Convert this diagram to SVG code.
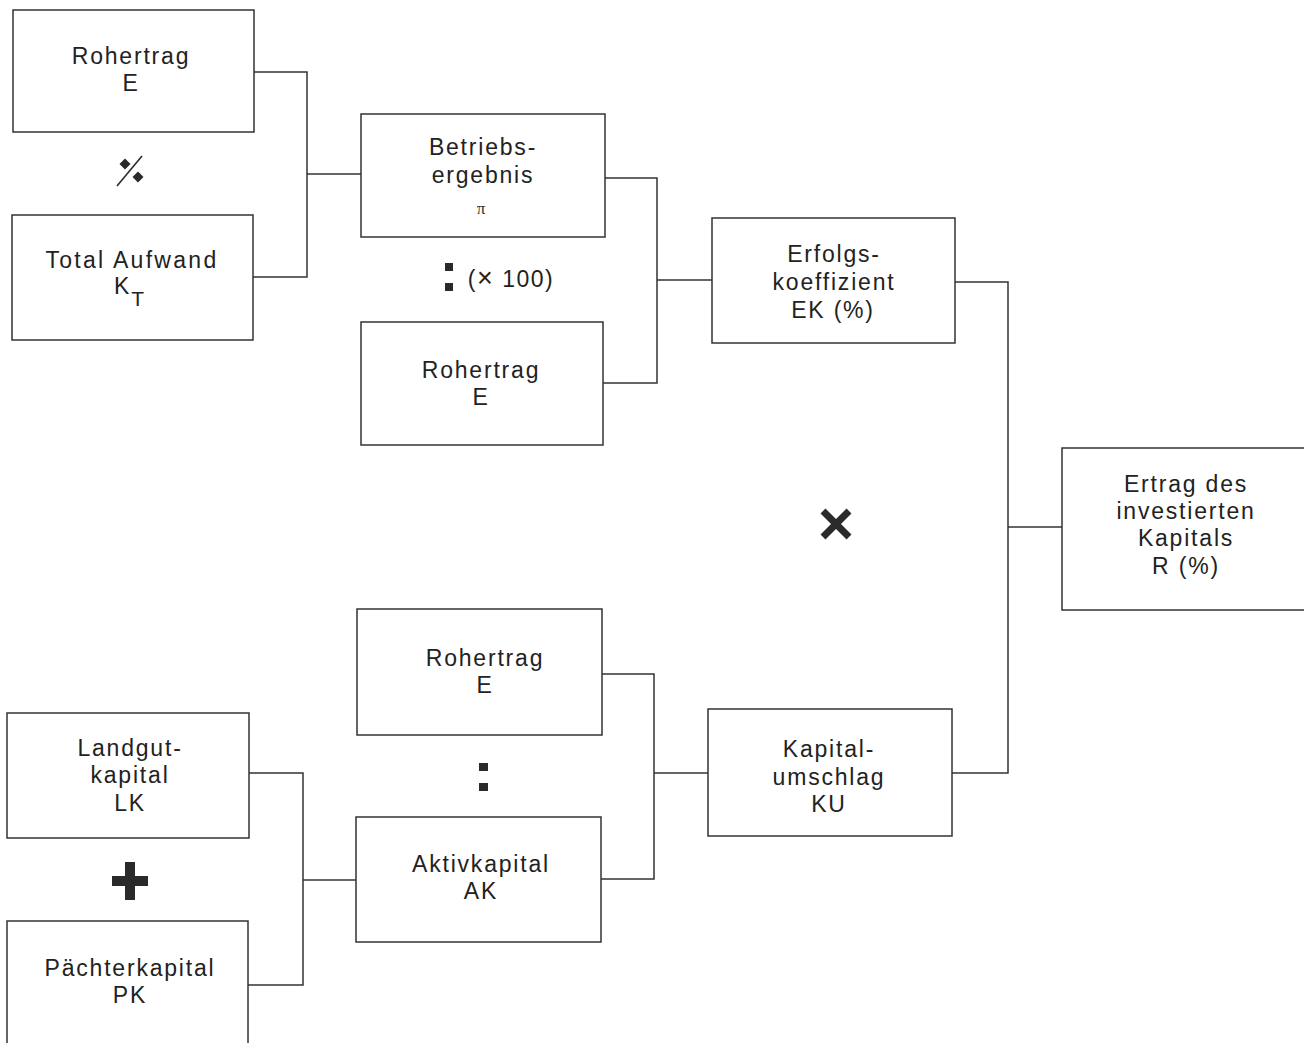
<svg xmlns="http://www.w3.org/2000/svg" width="1304" height="1043" viewBox="0 0 1304 1043">
<style>
.box{fill:#fff;stroke:#333;stroke-width:1.5}
.t{font-family:"Liberation Sans",Arial,sans-serif;font-size:23px;fill:#222;text-anchor:middle;letter-spacing:1.8px}
.c{fill:none;stroke:#333;stroke-width:1.5}
.op{fill:#2a2a2a}
</style>
<rect width="1304" height="1043" fill="#fff"/>
<g id="connectors">
<polyline class="c" points="254,72 307,72 307,277 253,277"/>
<line class="c" x1="307" y1="174" x2="361" y2="174"/>
<polyline class="c" points="605,178 657,178 657,383 603,383"/>
<line class="c" x1="657" y1="280" x2="712" y2="280"/>
<polyline class="c" points="955,282 1008,282 1008,773 952,773"/>
<line class="c" x1="1008" y1="527" x2="1062" y2="527"/>
<polyline class="c" points="602,674 654,674 654,879 601,879"/>
<line class="c" x1="654" y1="773" x2="708" y2="773"/>
<polyline class="c" points="249,773 303,773 303,985 248,985"/>
<line class="c" x1="303" y1="880" x2="356" y2="880"/>
</g>
<g id="n_rohertrag1">
<rect class="box" x="13" y="10" width="241" height="122"/>
<text class="t" x="131" y="64">Rohertrag</text>
<text class="t" x="131" y="91">E</text>
</g>
<g id="op_minus">
<line x1="117" y1="186" x2="142" y2="156" stroke="#2a2a2a" stroke-width="1.6"/>
<polygon class="op" points="125,158.5 130.5,164 125,169.5 119.5,164"/>
<polygon class="op" points="138,171.5 143.5,177 138,182.5 132.5,177"/>
</g>
<g id="n_aufwand">
<rect class="box" x="12" y="215" width="241" height="125"/>
<text class="t" x="132" y="268" style="letter-spacing:2.3px">Total Aufwand</text>
<text class="t" x="130" y="294">K<tspan font-size="21" dy="12">T</tspan></text>
</g>
<g id="n_betrieb">
<rect class="box" x="361" y="114" width="244" height="123"/>
<text class="t" x="483" y="155">Betriebs-</text>
<text class="t" x="483" y="183">ergebnis</text>
<text x="481" y="214" style="font-size:17px;font-family:'Liberation Serif',serif;fill:#333;text-anchor:middle">π</text>
</g>
<g id="op_div1">
<rect class="op" x="445" y="263" width="8" height="8"/>
<rect class="op" x="445" y="283" width="8" height="8"/>
<text class="t" x="511" y="287" style="letter-spacing:1.5px">(<tspan font-size="27">×</tspan> 100)</text>
</g>
<g id="n_rohertrag2">
<rect class="box" x="361" y="322" width="242" height="123"/>
<text class="t" x="481" y="378">Rohertrag</text>
<text class="t" x="481" y="405">E</text>
</g>
<g id="n_erfolg">
<rect class="box" x="712" y="218" width="243" height="125"/>
<text class="t" x="834" y="262">Erfolgs-</text>
<text class="t" x="834" y="290">koeffizient</text>
<text class="t" x="833" y="318">EK (%)</text>
</g>
<g id="op_mul">
<path d="M823,511 L849,537 M849,511 L823,537" stroke="#2a2a2a" stroke-width="7" fill="none"/>
</g>
<g id="n_ertrag">
<rect class="box" x="1062" y="448" width="250" height="162"/>
<text class="t" x="1186" y="492">Ertrag des</text>
<text class="t" x="1186" y="519">investierten</text>
<text class="t" x="1186" y="546">Kapitals</text>
<text class="t" x="1186" y="574">R (%)</text>
</g>
<g id="n_rohertrag3">
<rect class="box" x="357" y="609" width="245" height="126"/>
<text class="t" x="485" y="666">Rohertrag</text>
<text class="t" x="485" y="693">E</text>
</g>
<g id="op_div2">
<rect class="op" x="479" y="763" width="9" height="8"/>
<rect class="op" x="479" y="783" width="9" height="8"/>
</g>
<g id="n_aktiv">
<rect class="box" x="356" y="817" width="245" height="125"/>
<text class="t" x="481" y="872">Aktivkapital</text>
<text class="t" x="481" y="899">AK</text>
</g>
<g id="n_umschlag">
<rect class="box" x="708" y="709" width="244" height="127"/>
<text class="t" x="829" y="757">Kapital-</text>
<text class="t" x="829" y="785">umschlag</text>
<text class="t" x="829" y="812">KU</text>
</g>
<g id="n_landgut">
<rect class="box" x="7" y="713" width="242" height="125"/>
<text class="t" x="130" y="756">Landgut-</text>
<text class="t" x="130" y="783">kapital</text>
<text class="t" x="130" y="811">LK</text>
</g>
<g id="op_plus">
<rect class="op" x="112" y="876" width="36" height="10"/>
<rect class="op" x="125" y="862" width="10" height="38"/>
</g>
<g id="n_paechter">
<rect class="box" x="7" y="921" width="241" height="130"/>
<text class="t" x="130" y="976">Pächterkapital</text>
<text class="t" x="130" y="1003">PK</text>
</g>
</svg>
